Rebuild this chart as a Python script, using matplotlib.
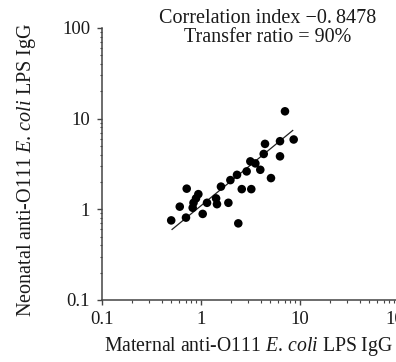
import numpy as np
import matplotlib
matplotlib.use("Agg")
import matplotlib.pyplot as plt
from matplotlib.ticker import LogLocator, NullFormatter, FixedLocator, FixedFormatter

plt.rcParams['font.family'] = ['Liberation Serif', 'DejaVu Serif']
plt.rcParams['mathtext.fontset'] = 'custom'
plt.rcParams['mathtext.rm'] = 'Liberation Serif'
plt.rcParams['mathtext.it'] = 'Liberation Serif:italic'

# Data
maternal = [0.50, 0.61, 0.705, 0.717, 0.824, 0.84, 0.89, 0.94, 1.04, 1.15,
            1.42, 1.45, 1.59, 1.89, 1.98, 2.31, 2.38, 2.58, 2.89, 3.22,
            3.15, 3.54, 3.97, 4.43, 4.30, 5.09, 6.28, 6.28, 7.05, 8.63]
neonatal = [0.755, 1.07, 0.81, 1.69, 1.04, 1.18, 1.32, 1.47, 0.89, 1.18,
            1.32, 1.14, 1.78, 1.18, 2.10, 2.40, 0.70, 1.67, 2.62, 1.67,
            3.38, 3.21, 2.73, 5.27, 4.08, 2.21, 5.64, 3.84, 12.05, 5.89]
fit_x = [0.51, 8.44]
fit_y = [0.60, 7.41]

tick_vals = [0.1, 1, 10, 100]
tick_labels = ['0.1', '1', '10', '100']

fig = plt.figure(figsize=(3.96, 3.62), dpi=100)
ax = fig.add_axes([0.2576, 0.1713, 0.75, 0.7514])

ax.set_xscale('log')
ax.set_yscale('log')
ax.set_xlim(0.1, 100)
ax.set_ylim(0.1, 100)

ax.plot(fit_x, fit_y, color='#222222', lw=0.9, zorder=2)
ax.scatter(maternal, neonatal, s=38, color='black', edgecolors='none', zorder=3)

for s in ['top', 'right']:
    ax.spines[s].set_visible(False)
for s in ['left', 'bottom']:
    ax.spines[s].set_color('#444444')
    ax.spines[s].set_linewidth(1.1)

for axis in (ax.xaxis, ax.yaxis):
    axis.set_major_locator(FixedLocator(tick_vals))
    axis.set_major_formatter(FixedFormatter(tick_labels))
    axis.set_minor_locator(LogLocator(base=10, subs=np.arange(2, 10)))
    axis.set_minor_formatter(NullFormatter())

ax.tick_params(which='major', direction='out', length=3.6, width=1.0,
               color='#444444', labelsize=13.5, labelcolor='#1a1a1a')
ax.tick_params(which='minor', direction='out', length=1.8, width=0.8,
               color='#444444')
ax.tick_params(axis='x', which='major', pad=4)
ax.tick_params(axis='y', which='major', pad=5)

ax.set_xlabel(r'Maternal anti-O111 $\mathit{E.\,coli}$ LPS IgG',
              fontsize=14.2, color='#1a1a1a')
ax.set_ylabel(r'Neonatal anti-O111 $\mathit{E.\,coli}$ LPS IgG',
              fontsize=14.5, color='#1a1a1a')
ax.xaxis.set_label_coords(0.494, -0.13)
ax.yaxis.set_label_coords(-0.215, 0.48)

fig.text(268 / 396, 1 - 28 / 362,
         'Correlation index \u22120.\u20098478\nTransfer ratio = 90%',
         ha='center', va='center', fontsize=14.5, color='#1a1a1a',
         linespacing=1.0)

fig.savefig('out.png', dpi=100)
